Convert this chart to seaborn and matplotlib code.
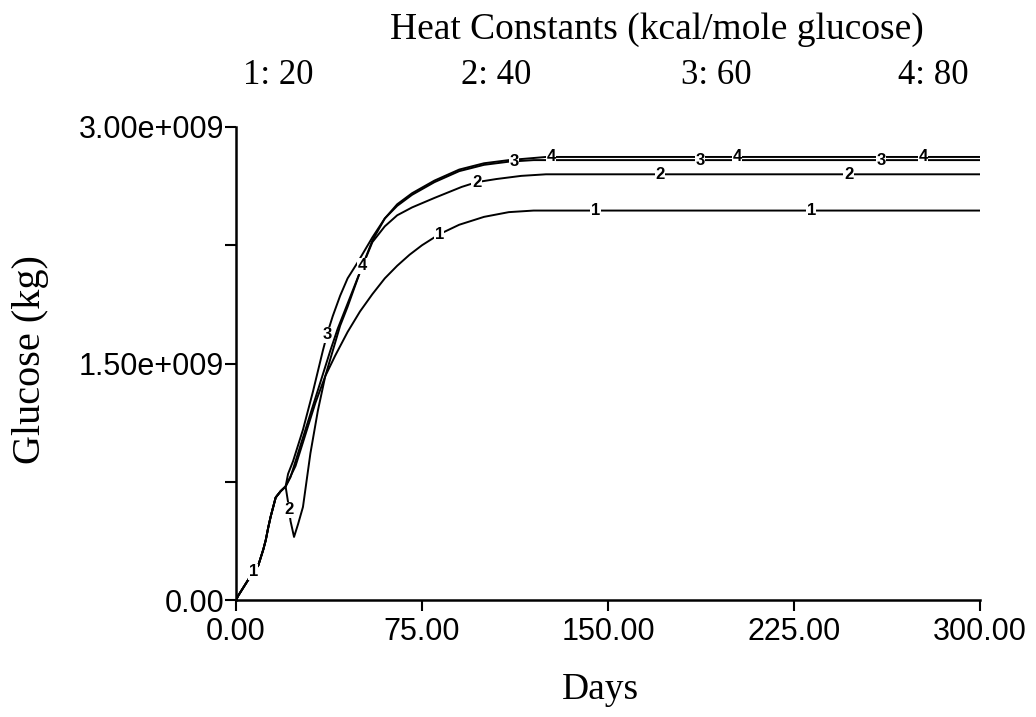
import numpy as np
import pandas as pd
import matplotlib
matplotlib.use("Agg")
import matplotlib.pyplot as plt
import seaborn as sns

# ---- data (days, glucose in 1e9 kg) ----
common_days = [0, 1, 3, 5, 7, 9, 11, 12, 13, 14, 15, 16, 18, 20]
common_vals = [0.0, 0.03, 0.08, 0.13, 0.18, 0.22, 0.32, 0.38, 0.46, 0.53, 0.59, 0.65, 0.69, 0.72]

c1_days = [24, 28, 32, 36, 40, 45, 50, 55, 60, 65, 70, 75, 82, 90, 100, 110, 120, 300]
c1_vals = [0.85, 1.05, 1.25, 1.42, 1.55, 1.70, 1.83, 1.94, 2.04, 2.12, 2.19, 2.25, 2.32, 2.38, 2.43, 2.46, 2.47, 2.47]

c2_days = [21, 22, 23.4, 25, 27, 30, 33, 36, 39, 42, 45, 50, 55, 60, 65, 71, 80, 91, 97, 105, 115, 125, 300]
c2_vals = [0.62, 0.50, 0.40, 0.48, 0.59, 0.93, 1.20, 1.42, 1.58, 1.74, 1.86, 2.08, 2.27, 2.37, 2.44, 2.49, 2.55, 2.62, 2.65, 2.67, 2.69, 2.70, 2.70]

c3_days = [21, 23, 25, 27, 29, 31, 33, 35, 37, 39, 42, 45, 49, 55, 60, 65, 71, 80, 90, 100, 110, 120, 300]
c3_vals = [0.80, 0.88, 0.98, 1.08, 1.20, 1.32, 1.45, 1.58, 1.70, 1.80, 1.93, 2.04, 2.14, 2.30, 2.42, 2.50, 2.57, 2.65, 2.72, 2.76, 2.78, 2.79, 2.79]

c4_days = [22, 24, 26, 28, 30, 32, 34, 36, 38, 41, 44, 47, 50, 55, 60, 65, 71, 80, 90, 100, 110, 125, 300]
c4_vals = [0.78, 0.88, 0.98, 1.08, 1.18, 1.28, 1.38, 1.48, 1.58, 1.72, 1.84, 1.96, 2.08, 2.28, 2.42, 2.51, 2.58, 2.66, 2.73, 2.77, 2.79, 2.81, 2.81]

series_names = ["1", "2", "3", "4"]
label_days = {
    "1": [7, 82, 145, 232],
    "2": [21.4, 97, 171, 247],
    "3": [36.7, 112, 187, 260],
    "4": [51, 127, 202, 277],
}
heat_labels = ["1: 20", "2: 40", "3: 60", "4: 80"]
x_ticks = [0, 75, 150, 225, 300]
x_ticklabels = ["0.00", "75.00", "150.00", "225.00", "300.00"]
y_ticks = [0, 0.75, 1.5, 2.25, 3.0]
y_ticklabels = ["0.00", "", "1.50e+009", "", "3.00e+009"]

# ---- build long table ----
parts = {"1": (c1_days, c1_vals), "2": (c2_days, c2_vals),
         "3": (c3_days, c3_vals), "4": (c4_days, c4_vals)}
rows = []
curves = {}
for name in series_names:
    d = list(common_days) + list(parts[name][0])
    v = list(common_vals) + list(parts[name][1])
    curves[name] = (np.array(d), np.array(v))
    for dd, vv in zip(d, v):
        rows.append({"Days": dd, "Glucose": vv, "curve": name})
df = pd.DataFrame(rows)

sns.set_theme(style="white")
plt.rcParams["font.family"] = ["Liberation Sans", "DejaVu Sans"]
plt.rcParams["text.color"] = "black"
plt.rcParams["axes.labelcolor"] = "black"
plt.rcParams["xtick.color"] = "black"
plt.rcParams["ytick.color"] = "black"

fig = plt.figure(figsize=(10.36, 7.17), dpi=100)
ax = fig.add_axes([236 / 1036, 117 / 717, (980 - 236) / 1036, (600 - 127) / 717])

sns.lineplot(data=df, x="Days", y="Glucose", hue="curve", estimator=None, sort=False,
             palette=["black"] * 4, linewidth=1.4, legend=False, ax=ax)

for name in series_names:
    d, v = curves[name]
    for ld in label_days[name]:
        ly = np.interp(ld, d, v)
        ax.text(ld, ly, name, ha="center", va="center", fontsize=12, fontweight="bold",
                color="black", zorder=5,
                bbox=dict(boxstyle="square,pad=0.03", fc="white", ec="none"))

ax.set_xlim(0, 300)
ax.set_ylim(0, 3.0)
ax.set_xticks(x_ticks)
ax.set_xticklabels(x_ticklabels)
ax.set_yticks(y_ticks)
ax.set_yticklabels(y_ticklabels)
ax.set_xlabel("")
ax.set_ylabel("")
ax.tick_params(axis="both", which="major", direction="out", length=8, width=1.5,
               labelsize=22, colors="black", labelcolor="black", bottom=True, left=True)
ax.tick_params(axis="x", pad=4)
ax.tick_params(axis="y", pad=0.5)
for s in ["top", "right"]:
    ax.spines[s].set_visible(False)
for s in ["left", "bottom"]:
    ax.spines[s].set_color("black")
    ax.spines[s].set_linewidth(1.8)
ax.grid(False)

serif = ["Liberation Serif", "DejaVu Serif"]
fig.text(600 / 1036, 1 - 690 / 717, "Days", ha="center", va="center", fontsize=27,
         family=serif, color="black")
fig.text(31 / 1036, 1 - 360 / 717, "Glucose (kg)", ha="center", va="center", rotation=90,
         fontsize=29, family=serif, color="black")

fig.text(657 / 1036, 1 - 30 / 717, "Heat Constants (kcal/mole glucose)", ha="center", va="center",
         fontsize=27, family=serif, color="black")
heat_x = [243, 461, 681, 898]
for hx, hl in zip(heat_x, heat_labels):
    fig.text(hx / 1036, 1 - 75 / 717, hl, ha="left", va="center", fontsize=25, family=serif,
             color="black")

fig.savefig("out.png", dpi=100)
